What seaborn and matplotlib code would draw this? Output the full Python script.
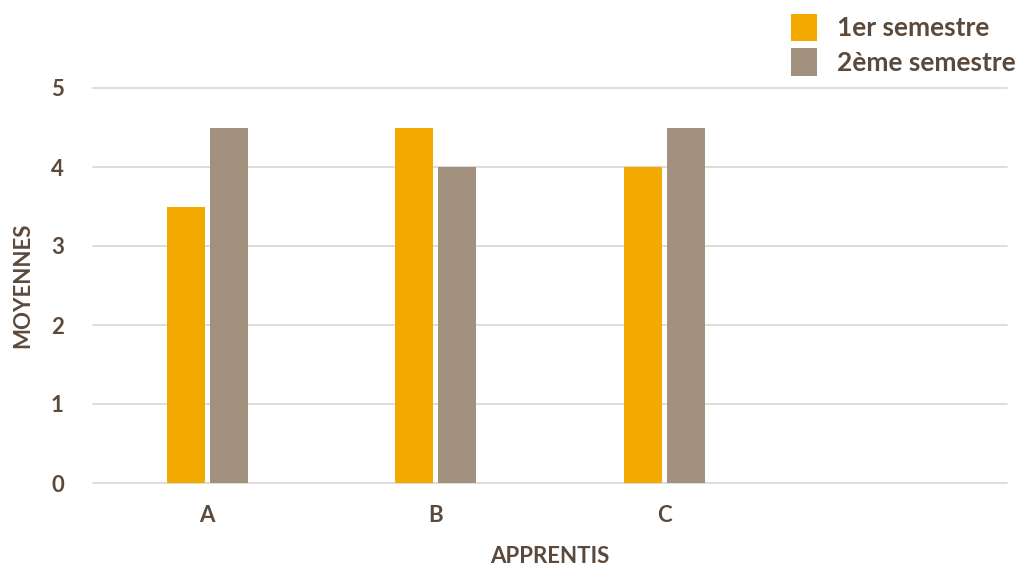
import matplotlib
matplotlib.use("Agg")
import matplotlib.pyplot as plt
import seaborn as sns
import pandas as pd
from matplotlib.patches import Patch

categories = ["A", "B", "C"]
series_names = ["1er semestre", "2ème semestre"]
sem1 = [3.5, 4.5, 4.0]
sem2 = [4.5, 4.0, 4.5]
y_ticks = [0, 1, 2, 3, 4, 5]

colors = ["#F2A900", "#A39180"]
text_color = "#5B4A3C"

df = pd.DataFrame({
    "Apprentis": categories * 2,
    "Moyenne": sem1 + sem2,
    "Semestre": [series_names[0]] * 3 + [series_names[1]] * 3,
})

sns.set_theme(style="white")
plt.rcParams["font.family"] = ["Lato", "DejaVu Sans"]

fig = plt.figure(figsize=(10.17, 5.69), dpi=100)
ax = fig.add_axes([93/1017, 86/569, 914/1017, 395/569])

sns.barplot(data=df, x="Apprentis", y="Moyenne", hue="Semestre",
            palette=colors, width=0.375, gap=0.11, ax=ax, legend=False,
            saturation=1, linewidth=0)

ax.set_xlim(-0.5, 3.5)
ax.set_ylim(0, 5)
ax.set_yticks(y_ticks)
ax.set_yticklabels([str(t) for t in y_ticks], fontsize=16, color=text_color, fontweight="bold")
ax.set_xticks(range(len(categories)))
ax.set_xticklabels(categories, fontsize=16, color=text_color, fontweight="bold")
ax.tick_params(axis="both", length=0)
ax.tick_params(axis="y", pad=21)
ax.tick_params(axis="x", pad=16)
ax.yaxis.grid(True, color="#DAD5D0", linewidth=1.2)
for gl in ax.get_ygridlines():
    gl.set_clip_on(False)
ax.set_axisbelow(True)
for s in ax.spines.values():
    s.set_visible(False)

ax.set_xlabel("APPRENTIS", fontsize=16, color=text_color, fontweight="bold", labelpad=14)
ax.set_ylabel("MOYENNES", fontsize=16, color=text_color, fontweight="bold", labelpad=13)

handles = [Patch(facecolor=c, edgecolor="none") for c in colors]
fig.legend(handles, series_names, loc="upper right", bbox_to_anchor=(1.022, 1.018),
           frameon=False, labelcolor=text_color,
           handlelength=1.0, handleheight=1.2, handletextpad=0.75, labelspacing=0.3,
           prop={"weight": "bold", "size": 19})

fig.savefig("out.png", dpi=100, facecolor="white")
